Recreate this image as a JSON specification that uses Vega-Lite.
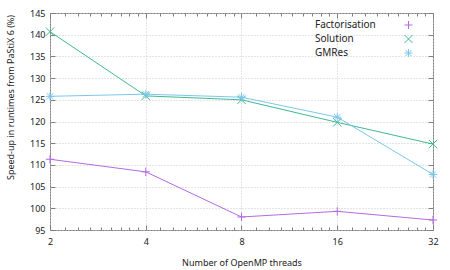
{
  "$schema": "https://vega.github.io/schema/vega-lite/v6.json",
  "width": 383,
  "height": 217,
  "autosize": {"type": "none"},
  "padding": {"left": 50, "top": 13, "right": 17, "bottom": 40},
  "background": "white",
  "config": {
    "view": {"stroke": "#7f7f7f", "strokeWidth": 1},
    "font": "Noto Sans",
    "axis": {"domain": false, "labelFont": "Noto Sans", "titleFont": "Noto Sans", "labelFontSize": 9, "titleFontSize": 9, "labelColor": "#222", "titleColor": "#222", "titleFontWeight": "normal", "tickColor": "#7f7f7f", "gridColor": "#c8c8c8", "gridDash": [1, 2]},
    "legend": {"labelFont": "Noto Sans", "labelFontSize": 10, "labelColor": "#222"}
  },
  "data": {
    "values": [
      {"series": "Factorisation", "threads": 2, "speedup": 111.3},
      {"series": "Factorisation", "threads": 4, "speedup": 108.4},
      {"series": "Factorisation", "threads": 8, "speedup": 98.0},
      {"series": "Factorisation", "threads": 16, "speedup": 99.3},
      {"series": "Factorisation", "threads": 32, "speedup": 97.3},
      {"series": "Solution", "threads": 2, "speedup": 140.7},
      {"series": "Solution", "threads": 4, "speedup": 125.9},
      {"series": "Solution", "threads": 8, "speedup": 125.0},
      {"series": "Solution", "threads": 16, "speedup": 119.8},
      {"series": "Solution", "threads": 32, "speedup": 114.8},
      {"series": "GMRes", "threads": 2, "speedup": 125.8},
      {"series": "GMRes", "threads": 4, "speedup": 126.3},
      {"series": "GMRes", "threads": 8, "speedup": 125.6},
      {"series": "GMRes", "threads": 16, "speedup": 121.0},
      {"series": "GMRes", "threads": 32, "speedup": 107.8}
    ]
  },
  "layer": [
    {
      "mark": {"type": "line", "strokeWidth": 1, "clip": true},
      "encoding": {
        "x": {"field": "threads", "type": "quantitative",
          "scale": {"type": "log", "base": 2, "domain": [2, 32], "nice": false},
          "axis": {"orient": "bottom", "values": [2, 4, 8, 16, 32], "format": "d", "grid": true, "tickSize": -5, "labelPadding": 12, "labelFlush": false, "title": "Number of OpenMP threads", "titlePadding": 12}},
        "y": {"field": "speedup", "type": "quantitative",
          "scale": {"domain": [95, 145], "nice": false, "zero": false},
          "axis": {"orient": "left", "values": [95, 100, 105, 110, 115, 120, 125, 130, 135, 140, 145], "grid": true, "tickSize": -5, "labelPadding": 10, "title": "Speed-up in runtimes from PaStiX 6 (%)", "titleAngle": -90, "titleX": -40, "titleY": 84, "titleAlign": "center", "titleBaseline": "middle"}},
        "color": {"field": "series", "type": "nominal",
          "scale": {"domain": ["Factorisation", "Solution", "GMRes"], "range": ["#b56ae2", "#3fb993", "#7cc6ee"]},
          "legend": {"title": null, "orient": "none", "legendX": 353.5, "legendY": 7, "symbolSize": 64, "symbolStrokeWidth": 1, "labelOffset": -98.5, "rowPadding": 2, "padding": 0}}
      }
    },
    {
      "mark": {"type": "point", "filled": false, "strokeWidth": 1, "size": 70, "opacity": 1},
      "encoding": {
        "x": {"field": "threads", "type": "quantitative",
          "scale": {"type": "log", "base": 2, "domain": [2, 32], "nice": false},
          "axis": {"orient": "top", "values": [2, 4, 8, 16, 32], "labels": false, "grid": false, "tickSize": -5, "title": null}},
        "y": {"field": "speedup", "type": "quantitative",
          "scale": {"domain": [95, 145], "nice": false, "zero": false},
          "axis": {"orient": "right", "values": [95, 100, 105, 110, 115, 120, 125, 130, 135, 140, 145], "labels": false, "grid": false, "tickSize": -5, "title": null}},
        "color": {"field": "series", "type": "nominal",
          "scale": {"domain": ["Factorisation", "Solution", "GMRes"], "range": ["#b56ae2", "#3fb993", "#7cc6ee"]},
          "legend": {"title": null, "orient": "none", "legendX": 353.5, "legendY": 7, "symbolSize": 64, "symbolStrokeWidth": 1, "labelOffset": -98.5, "rowPadding": 2, "padding": 0}},
        "shape": {"field": "series", "type": "nominal",
          "scale": {"domain": ["Factorisation", "Solution", "GMRes"], "range": ["M-1,0L1,0M0,-1L0,1", "M-1,-1L1,1M-1,1L1,-1", "M-1,0L1,0M0,-1L0,1M-0.75,-0.75L0.75,0.75M-0.75,0.75L0.75,-0.75"]},
          "legend": null}
      }
    },
    {
      "mark": {"type": "point", "opacity": 0},
      "encoding": {
        "x": {"field": "threads", "type": "quantitative",
          "scale": {"type": "log", "base": 2, "domain": [2, 32], "nice": false},
          "axis": {"orient": "bottom", "values": [2.2222, 2.4444, 2.6667, 2.8889, 3.1111, 3.3333, 3.5556, 3.7778, 4.4444, 4.8889, 5.3333, 5.7778, 6.2222, 6.6667, 7.1111, 7.5556, 8.8889, 9.7778, 10.6667, 11.5556, 12.4444, 13.3333, 14.2222, 15.1111, 17.7778, 19.5556, 21.3333, 23.1111, 24.8889, 26.6667, 28.4444, 30.2222], "labels": false, "grid": false, "tickSize": -3, "title": null}},
        "y": {"field": "speedup", "type": "quantitative", "scale": {"domain": [95, 145], "nice": false, "zero": false}, "axis": null}
      }
    },
    {
      "mark": {"type": "point", "opacity": 0},
      "encoding": {
        "x": {"field": "threads", "type": "quantitative",
          "scale": {"type": "log", "base": 2, "domain": [2, 32], "nice": false},
          "axis": {"orient": "top", "values": [2.2222, 2.4444, 2.6667, 2.8889, 3.1111, 3.3333, 3.5556, 3.7778, 4.4444, 4.8889, 5.3333, 5.7778, 6.2222, 6.6667, 7.1111, 7.5556, 8.8889, 9.7778, 10.6667, 11.5556, 12.4444, 13.3333, 14.2222, 15.1111, 17.7778, 19.5556, 21.3333, 23.1111, 24.8889, 26.6667, 28.4444, 30.2222], "labels": false, "grid": false, "tickSize": -3, "title": null}},
        "y": {"field": "speedup", "type": "quantitative", "scale": {"domain": [95, 145], "nice": false, "zero": false}, "axis": null}
      }
    }
  ],
  "resolve": {"axis": {"x": "independent", "y": "independent"}}
}
